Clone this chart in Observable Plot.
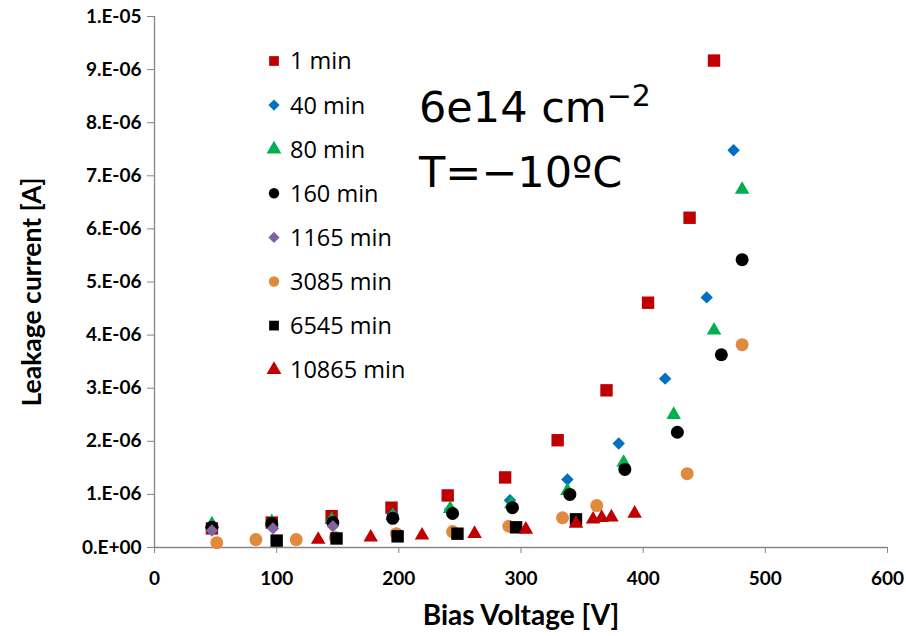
<!DOCTYPE html>
<html><head><meta charset="utf-8">
<script src="https://cdn.jsdelivr.net/npm/d3@7"></script>
<script src="https://cdn.jsdelivr.net/npm/@observablehq/plot@0.6"></script>
<style>
body{margin:0;background:#fff}
#chart svg{display:block;overflow:visible}
</style></head><body><div id="chart"></div>
<script>
// ---- data (current in units of 1e-6 A) ----
const seriesNames = ["1 min","40 min","80 min","160 min","1165 min","3085 min","6545 min","10865 min"];
const seriesColors = ["#C00000","#0070C0","#00B050","#000000","#8064A2","#E08A3E","#000000","#C00000"];
const seriesSymbols = ["square","diamond2","triangle","circle","diamond2","circle","square","triangle"];

const v1min = [47, 96, 145, 194, 240, 287, 330, 370, 404, 438, 458];
const i1min = [0.36, 0.47, 0.59, 0.75, 0.98, 1.32, 2.02, 2.96, 4.61, 6.21, 9.17];
const v40min = [47, 96, 145, 195, 242, 291, 338, 380, 418, 452, 474];
const i40min = [0.38, 0.46, 0.52, 0.62, 0.72, 0.89, 1.28, 1.96, 3.18, 4.71, 7.48];
const v80min = [47, 96, 145, 195, 242, 292, 338, 384, 425, 458, 481];
const i80min = [0.44, 0.48, 0.52, 0.6, 0.73, 0.82, 1.07, 1.6, 2.5, 4.09, 6.74];
const v160min = [47, 96, 146, 195, 244, 293, 340, 385, 428, 464, 481];
const i160min = [0.38, 0.45, 0.47, 0.55, 0.64, 0.75, 1.0, 1.47, 2.17, 3.63, 5.42];
const v1165min = [47, 97, 146];
const i1165min = [0.32, 0.36, 0.40];
const v3085min = [51, 83, 116, 148, 198, 244, 290, 334, 362, 436, 481];
const i3085min = [0.09, 0.15, 0.15, 0.19, 0.26, 0.30, 0.40, 0.56, 0.79, 1.39, 3.82];
const v6545min = [100, 149, 199, 248, 296, 345];
const i6545min = [0.13, 0.17, 0.21, 0.26, 0.38, 0.53];
const v10865min = [134, 177, 219, 262, 304, 345, 359, 366, 374, 393];
const i10865min = [0.15, 0.19, 0.23, 0.26, 0.34, 0.45, 0.53, 0.56, 0.57, 0.64];

const xTicks = [0, 100, 200, 300, 400, 500, 600];
const yTicks = [0, 1e-6, 2e-6, 3e-6, 4e-6, 5e-6, 6e-6, 7e-6, 8e-6, 9e-6, 1e-5];
const yTickLabels = ["0.E+00","1.E-06","2.E-06","3.E-06","4.E-06","5.E-06","6.E-06","7.E-06","8.E-06","9.E-06","1.E-05"];

const xTitle = "Bias Voltage [V]";
const yTitle = "Leakage current [A]";
const noteLine1 = "6e14 cm";
const noteSup = "\u22122";
const noteLine2 = "T=\u221210\u00BAC";

const voltages = [v1min, v40min, v80min, v160min, v1165min, v3085min, v6545min, v10865min];
const currents = [i1min, i40min, i80min, i160min, i1165min, i3085min, i6545min, i10865min];
const radii = [7, 5.6, 5.4, 6.5, 5.6, 6.5, 7, 5.4];

const rows = [];
seriesNames.forEach((s, k) => voltages[k].forEach((v, j) => rows.push({series: s, v, i: currents[k][j] * 1e-6})));

const W = 906, H = 636;
const gray = "#868686";

const dotMarks = seriesNames.map((s, k) => Plot.dot(rows.filter(d => d.series === s), {
  x: "v", y: "i", symbol: seriesSymbols[k], fill: seriesColors[k], r: radii[k], stroke: "none"
}));

const chart = Plot.plot({
  width: W, height: H,
  marginLeft: 154, marginRight: 19, marginTop: 16, marginBottom: 89,
  style: {fontFamily: "Lato, sans-serif", fontSize: "19px", color: "#000", background: "#fff"},
  x: {domain: [0, 600]},
  y: {domain: [0, 1e-5]},
  marks: [
    Plot.axisX({ticks: xTicks, tickSize: 6, tickPadding: 18, stroke: gray, fill: "#000", label: null, fontWeight: "bold"}),
    Plot.axisY({ticks: yTicks, tickSize: 7, tickPadding: 6, stroke: gray, fill: "#000", label: null, fontWeight: "bold",
      tickFormat: d => yTickLabels[yTicks.indexOf(d)]}),
    Plot.ruleX([0], {stroke: gray, strokeWidth: 1.3}),
    Plot.ruleY([0], {stroke: gray, strokeWidth: 1.3}),
    ...dotMarks
  ]
});

const svg = d3.select(chart);
// axis titles
svg.append("text").attr("x", 521).attr("y", 625).attr("text-anchor", "middle")
  .attr("font-family", "Lato, sans-serif").attr("font-weight", "bold").attr("font-size", 28).attr("fill", "#000").text(xTitle);
svg.append("text").attr("transform", "translate(41,292) rotate(-90)").attr("text-anchor", "middle")
  .attr("font-family", "Lato, sans-serif").attr("font-weight", "bold").attr("font-size", 26.5).attr("fill", "#000").text(yTitle);

// legend
const lg = svg.append("g").attr("text-anchor", "start");
const legendSizes = {square: 95, diamond2: 80, triangle: 95, circle: 85};
const symMap = {square: d3.symbolSquare, diamond2: d3.symbolDiamond2, triangle: d3.symbolTriangle, circle: d3.symbolCircle};
seriesNames.forEach((s, k) => {
  const y = 61 + k * 44.1;
  lg.append("path").attr("transform", `translate(274,${y})`)
    .attr("d", d3.symbol(symMap[seriesSymbols[k]], legendSizes[seriesSymbols[k]])())
    .attr("fill", seriesColors[k]);
  lg.append("text").attr("x", 290).attr("y", y).attr("dy", "0.36em").attr("text-anchor", "start")
    .attr("font-family", "'Open Sans', sans-serif").attr("font-size", 23.5).attr("fill", "#000").text(s);
});

// annotation
const t1 = svg.append("text").attr("x", 419).attr("y", 122).attr("text-anchor", "start")
  .attr("font-family", "'DejaVu Sans', sans-serif").attr("font-size", 43).attr("fill", "#000");
t1.append("tspan").text(noteLine1);
t1.append("tspan").attr("font-size", 30).attr("dy", -16).text(noteSup);
svg.append("text").attr("x", 419).attr("y", 187).attr("text-anchor", "start")
  .attr("font-family", "'DejaVu Sans', sans-serif").attr("font-size", 43).attr("fill", "#000").text(noteLine2);

document.getElementById("chart").appendChild(chart);
</script></body></html>
